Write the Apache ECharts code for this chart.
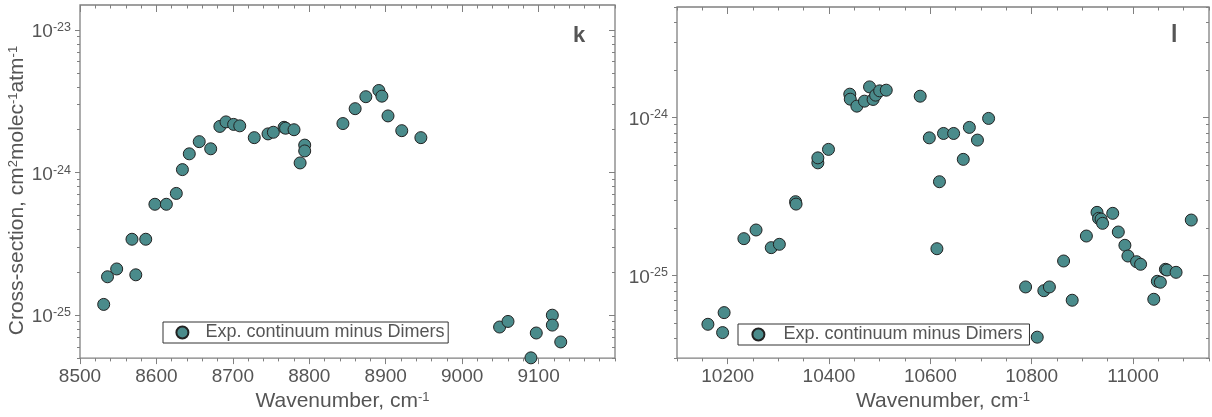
<!DOCTYPE html>
<html>
<head>
<meta charset="utf-8">
<script src="https://cdn.jsdelivr.net/npm/echarts@6/dist/echarts.min.js"></script>
<style>
  html, body { margin: 0; padding: 0; background: #ffffff; }
  #chart { width: 1212px; height: 417px; }
</style>
</head>
<body>
<div id="chart"></div>
<script>
// Panel k: wavenumber (cm-1) and cross-section (cm2 molec-1 atm-1)
const wavenumberK = [8531, 8536, 8548, 8568, 8573, 8586, 8598, 8613, 8626, 8634,
  8643, 8656, 8671, 8683, 8691, 8701, 8709, 8728, 8746, 8753,
  8767, 8769, 8780, 8788, 8794, 8794, 8844, 8860, 8874, 8891,
  8895, 8903, 8921, 8946, 9049, 9060, 9090, 9097, 9118, 9118, 9129];
const crossSectionK = [1.19e-25, 1.86e-25, 2.11e-25, 3.41e-25, 1.92e-25, 3.41e-25, 6.0e-25, 6.0e-25, 7.15e-25, 1.05e-24,
  1.355e-24, 1.65e-24, 1.47e-24, 2.11e-24, 2.27e-24, 2.18e-24, 2.13e-24, 1.76e-24, 1.87e-24, 1.92e-24,
  2.08e-24, 2.05e-24, 2.0e-24, 1.17e-24, 1.56e-24, 1.42e-24, 2.21e-24, 2.81e-24, 3.41e-24, 3.77e-24,
  3.44e-24, 2.5e-24, 1.97e-24, 1.76e-24, 8.26e-26, 9.04e-26, 5.02e-26, 7.5e-26, 1.0e-25, 8.52e-26, 6.49e-26];

// Panel l
const wavenumberL = [10161, 10190, 10193, 10232, 10256, 10286, 10302, 10334, 10335, 10378,
  10378, 10399, 10441, 10442, 10455, 10470, 10480, 10487, 10492, 10500,
  10513, 10580, 10598, 10613, 10618, 10626, 10646, 10665, 10677, 10693,
  10715, 10788, 10811, 10824, 10835, 10863, 10880, 10908, 10929, 10932,
  10937, 10940, 10960, 10971, 10984, 10990, 11007, 11015, 11041, 11048,
  11054, 11064, 11067, 11085, 11115];
const crossSectionL = [4.91e-26, 4.35e-26, 5.82e-26, 1.71e-25, 1.94e-25, 1.50e-25, 1.575e-25, 2.93e-25, 2.83e-25, 5.16e-25,
  5.55e-25, 6.28e-25, 1.404e-24, 1.305e-24, 1.179e-24, 1.268e-24, 1.561e-24, 1.30e-24, 1.384e-24, 1.473e-24,
  1.488e-24, 1.363e-24, 7.43e-25, 1.477e-25, 3.92e-25, 7.92e-25, 7.92e-25, 5.43e-25, 8.65e-25, 7.19e-25,
  9.86e-25, 8.46e-26, 4.07e-26, 8.01e-26, 8.46e-26, 1.235e-25, 6.97e-26, 1.777e-25, 2.509e-25, 2.299e-25,
  2.275e-25, 2.138e-25, 2.473e-25, 1.884e-25, 1.552e-25, 1.328e-25, 1.222e-25, 1.177e-25, 7.07e-26, 9.19e-26,
  9.06e-26, 1.094e-25, 1.083e-25, 1.047e-25, 2.243e-25];

const seriesName = 'Exp. continuum minus Dimers';
const panelLetters = ['k', 'l'];

// Axis ranges and tick positions
const xRangeK = [8500, 9200];
const xRangeL = [10100, 11150];
const yRangeK = [5e-26, 1.5e-23];
const yRangeL = [3e-26, 5e-24];
const xMajorK = [8500, 8600, 8700, 8800, 8900, 9000, 9100];
const xMajorL = [10200, 10400, 10600, 10800, 11000];
const xMinorStepK = 20;
const xMinorStepL = 50;
const yDecadesK = [-26, -25, -24, -23];
const yDecadesL = [-26, -25, -24];
const mantissas = [2, 3, 4, 5, 6, 7, 8, 9];

// The cross-section axis is logarithmic: values are placed by their decimal exponent
const lg = v => Math.log10(v);

function linearMinors(range, step, majors) {
  const out = [];
  for (let v = range[0]; v <= range[1] + 1e-9; v += step) {
    if (majors.indexOf(v) < 0) out.push(v);
  }
  return out;
}
function logMajors(decades, range) {
  return decades.filter(e => e >= lg(range[0]) - 1e-9 && e <= lg(range[1]) + 1e-9);
}
function logMinors(decades, range) {
  const out = [];
  decades.forEach(e => mantissas.forEach(m => {
    const v = lg(Number(m + 'e' + e));
    if (v >= lg(range[0]) - 1e-9 && v <= lg(range[1]) + 1e-9) out.push(v);
  }));
  return out;
}

const FONT = '"Liberation Sans", Arial, sans-serif';
const AXIS_COLOR = '#808080';
const TEXT_COLOR = '#555555';
const MARKER_COLOR = '#4a8b8b';

// Ticks on the far side of the frame are drawn by axes shifted inward by the tick length
function axisOf(dim, grid, range, position, ticks, len, extra) {
  const farSide = position === 'top' || position === 'right';
  return Object.assign({
    type: 'value', gridIndex: grid, min: range[0], max: range[1], position: position,
    offset: farSide ? -len : 0,
    axisLine: { show: false, onZero: false },
    axisTick: { show: true, customValues: ticks, length: len, inside: false,
      lineStyle: { color: AXIS_COLOR, width: 1 } },
    axisLabel: { show: false },
    splitLine: { show: false }
  }, extra || {});
}

const supRich = {
  sup: { fontSize: 13, lineHeight: 13, verticalAlign: 'top', color: TEXT_COLOR, fontFamily: FONT }
};
function xLabelled(majors, padRight) {
  return {
    axisLabel: { show: true, customValues: majors, fontSize: 19, color: TEXT_COLOR, fontFamily: FONT, margin: 9,
      formatter: v => String(v) },
    name: 'Wavenumber, cm{sup|-1}',
    nameLocation: 'middle',
    nameGap: 30,
    nameTextStyle: { fontSize: 21, lineHeight: 21, color: TEXT_COLOR, fontFamily: FONT,
      padding: [0, padRight, 0, 0], rich: supRich }
  };
}
function yLabelled(majors) {
  return {
    axisLabel: {
      show: true, customValues: majors, margin: 9, color: TEXT_COLOR, fontFamily: FONT,
      padding: [4, 0, 0, 0],
      formatter: v => '{n|10}{sup|' + Math.round(v) + '}',
      rich: {
        n: { fontSize: 19, lineHeight: 22, color: TEXT_COLOR, fontFamily: FONT },
        sup: { fontSize: 12.5, lineHeight: 13, verticalAlign: 'top', color: TEXT_COLOR, fontFamily: FONT }
      }
    }
  };
}

const yRangeKExp = yRangeK.map(lg);
const yRangeLExp = yRangeL.map(lg);

const xAxes = [
  axisOf('x', 0, xRangeK, 'bottom', xMajorK, 6, xLabelled(xMajorK, 10)),
  axisOf('x', 0, xRangeK, 'bottom', linearMinors(xRangeK, xMinorStepK, xMajorK), 3.3),
  axisOf('x', 0, xRangeK, 'top', xMajorK, 7),
  axisOf('x', 0, xRangeK, 'top', linearMinors(xRangeK, xMinorStepK, xMajorK), 3.5),
  axisOf('x', 1, xRangeL, 'bottom', xMajorL, 6, xLabelled(xMajorL, 0)),
  axisOf('x', 1, xRangeL, 'bottom', linearMinors(xRangeL, xMinorStepL, xMajorL), 3.3),
  axisOf('x', 1, xRangeL, 'top', xMajorL, 7),
  axisOf('x', 1, xRangeL, 'top', linearMinors(xRangeL, xMinorStepL, xMajorL), 3.5)
];

const yTitle = {
  name: 'Cross-section, cm{sup|2}molec{sup|-1}atm{sup|-1}',
  nameLocation: 'middle',
  nameRotate: 90,
  nameGap: 50,
  nameTextStyle: { fontSize: 21, lineHeight: 21, color: TEXT_COLOR, fontFamily: FONT,
    padding: [0, 18, 0, 0], rich: supRich }
};

const yAxes = [
  axisOf('y', 0, yRangeKExp, 'left', logMajors(yDecadesK, yRangeK), 5,
    Object.assign({}, yLabelled(logMajors(yDecadesK, yRangeK)), yTitle)),
  axisOf('y', 0, yRangeKExp, 'left', logMinors(yDecadesK, yRangeK), 3),
  axisOf('y', 0, yRangeKExp, 'right', logMajors(yDecadesK, yRangeK), 6),
  axisOf('y', 0, yRangeKExp, 'right', logMinors(yDecadesK, yRangeK), 3),
  axisOf('y', 1, yRangeLExp, 'left', logMajors(yDecadesL, yRangeL), 5, yLabelled(logMajors(yDecadesL, yRangeL))),
  axisOf('y', 1, yRangeLExp, 'left', logMinors(yDecadesL, yRangeL), 3),
  axisOf('y', 1, yRangeLExp, 'right', logMajors(yDecadesL, yRangeL), 6),
  axisOf('y', 1, yRangeLExp, 'right', logMinors(yDecadesL, yRangeL), 3)
];

function scatterOf(axisIndex, xs, ys) {
  return {
    type: 'scatter', name: seriesName,
    xAxisIndex: axisIndex, yAxisIndex: axisIndex,
    data: xs.map((x, i) => [x, lg(ys[i])]),
    symbol: 'circle', symbolSize: 12,
    itemStyle: { color: MARKER_COLOR, borderColor: '#222222', borderWidth: 1, opacity: 1 },
    emphasis: { disabled: true },
    silent: true
  };
}

function legendOf(left, top, padding, textGap) {
  return {
    data: [seriesName], left: left, top: top, orient: 'horizontal',
    icon: 'circle', itemWidth: 12, itemHeight: 12, itemGap: 0,
    padding: padding, borderColor: '#333333', borderWidth: 1, borderRadius: 0,
    selectedMode: false,
    textStyle: { fontSize: 18, lineHeight: 18, color: TEXT_COLOR, fontFamily: FONT,
      padding: [0, 0, 0, textGap] }
  };
}

const gridFrame = { show: true, borderColor: AXIS_COLOR, borderWidth: 1.3, backgroundColor: 'transparent' };

const chart = echarts.init(document.getElementById('chart'), null, { renderer: 'canvas' });
chart.setOption({
  animation: false,
  backgroundColor: '#ffffff',
  title: [
    { text: panelLetters[0], left: 573, top: 25, padding: 0,
      textStyle: { fontSize: 22, fontWeight: 'bold', color: TEXT_COLOR, fontFamily: FONT } },
    { text: panelLetters[1], left: 1171, top: 24, padding: 0,
      textStyle: { fontSize: 23, fontWeight: 'bold', color: TEXT_COLOR, fontFamily: FONT } }
  ],
  grid: [
    Object.assign({ left: 80, top: 5, width: 535, height: 356 }, gridFrame),
    Object.assign({ left: 677, top: 7, width: 532, height: 352 }, gridFrame)
  ],
  legend: [
    legendOf(163, 322, [1.5, 3.7, 1.5, 12.4], 12),
    legendOf(738, 324, [1.5, 7, 1.5, 13.4], 14)
  ],
  xAxis: xAxes,
  yAxis: yAxes,
  series: [
    scatterOf(0, wavenumberK, crossSectionK),
    scatterOf(4, wavenumberL, crossSectionL)
  ]
});
</script>
</body>
</html>
